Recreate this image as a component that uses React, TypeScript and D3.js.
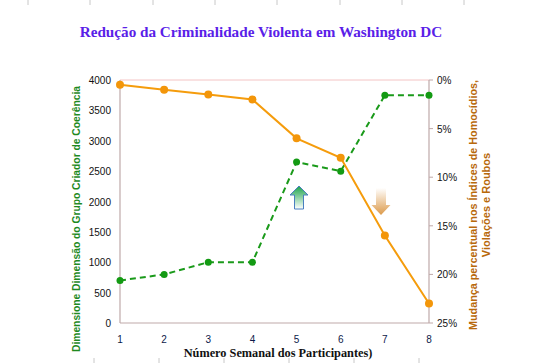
import React from 'react';
import * as d3 from 'd3';

const weeks = [1, 2, 3, 4, 5, 6, 7, 8];
const groupSize = [700, 800, 1000, 1000, 2650, 2500, 3750, 3750];
const crimeChange = [0.5, 1, 1.5, 2, 6, 8, 16, 23];
const leftTicks = [0, 500, 1000, 1500, 2000, 2500, 3000, 3500, 4000];
const rightTicks = [0, 5, 10, 15, 20, 25];
const topRuler = [28, 90, 153, 215, 277, 340, 402, 464];
const bottomRuler = [94, 159, 224, 289, 354, 419];

const W = 545;
const H = 363;
const m = { left: 120, right: 429, top: 80, bottom: 323 };

export default function App() {
  const x = d3.scaleLinear().domain([1, 8]).range([m.left, m.right]);
  const yL = d3.scaleLinear().domain([0, 4000]).range([m.bottom, m.top]);
  const yR = d3.scaleLinear().domain([0, 25]).range([m.top, m.bottom]);

  const greenLine = d3.line<number>().x((_, i) => x(weeks[i])).y(d => yL(d))(groupSize) || '';
  const orangeLine = d3.line<number>().x((_, i) => x(weeks[i])).y(d => yR(d))(crimeChange) || '';

  const axisCol = '#bfa9a9';
  const sans = '"Liberation Sans", Arial, sans-serif';
  const serif = '"Liberation Serif", "DejaVu Serif", serif';

  // arrow shapes (relative)
  const upArrow = 'M0,-12 L9,-3 L4.5,-3 L4.5,11 L-4.5,11 L-4.5,-3 L-9,-3 Z';
  const downArrow = 'M-5,-14 L5,-14 L5,3 L9.5,3 L0,13 L-9.5,3 L-5,3 Z';

  return (
    <svg width={W} height={H} style={{ position: 'absolute', left: 0, top: 0, background: '#fff' }}>
      <defs>
        <linearGradient id="gUp" x1="0" x2="0" y1="0" y2="1">
          <stop offset="0%" stopColor="#1aa34a" />
          <stop offset="100%" stopColor="#ffffff" />
        </linearGradient>
        <linearGradient id="gDown" x1="0" x2="0" y1="0" y2="1">
          <stop offset="0%" stopColor="#ffffff" />
          <stop offset="100%" stopColor="#dc9a4a" />
        </linearGradient>
      </defs>

      {topRuler.map(t => (
        <line key={'t' + t} x1={t} x2={t} y1={0} y2={5} stroke="#c8c8c8" />
      ))}
      {bottomRuler.map(t => (
        <line key={'b' + t} x1={t} x2={t} y1={358} y2={363} stroke="#c8c8c8" />
      ))}

      <text x={261} y={37} textAnchor="middle" fill="#5a1ee8" fontFamily={serif} fontWeight="bold" fontSize={15.2}>
        Redução da Criminalidade Violenta em Washington DC
      </text>

      {/* frame */}
      <line x1={m.left} x2={m.right} y1={m.top} y2={m.top} stroke="#f4c4c4" />
      <line x1={m.left} x2={m.right} y1={m.bottom} y2={m.bottom} stroke={axisCol} strokeWidth={1.2} />
      <line x1={m.left} x2={m.left} y1={m.top} y2={m.bottom} stroke={axisCol} strokeWidth={1.2} />
      <line x1={m.right} x2={m.right} y1={m.top} y2={m.bottom} stroke={axisCol} strokeWidth={1.2} />

      {leftTicks.map(t => (
        <text key={'l' + t} x={111} y={yL(t) + 4} textAnchor="end" fontFamily={sans} fontSize={10} fill="#111">
          {t}
        </text>
      ))}
      {rightTicks.map(t => (
        <g key={'r' + t}>
          <line x1={m.right} x2={m.right + 4} y1={yR(t)} y2={yR(t)} stroke={axisCol} />
          <text x={437} y={yR(t) + 4} fontFamily={sans} fontSize={10} fill="#111">{t}%</text>
        </g>
      ))}
      {weeks.map(w => (
        <text key={'x' + w} x={x(w)} y={343} textAnchor="middle" fontFamily={sans} fontSize={10} fill="#0b1a4a">
          {w}
        </text>
      ))}
      <text x={278} y={357} textAnchor="middle" fontFamily={serif} fontWeight="bold" fontSize={12.3} fill="#111">
        Número Semanal dos Participantes)
      </text>

      <text transform="translate(80,219) rotate(-90)" textAnchor="middle" fontFamily={sans} fontWeight="bold"
        fontSize={11} fill="#1f8a1f" textLength={266} lengthAdjust="spacingAndGlyphs">
        Dimensione Dimensão do Grupo Criador de Coerência
      </text>
      <text transform="translate(477,205) rotate(-90)" textAnchor="middle" fontFamily={sans} fontWeight="bold"
        fontSize={11} fill="#b8690c" textLength={250} lengthAdjust="spacingAndGlyphs">
        Mudança percentual nos Índices de Homocídios,
      </text>
      <text transform="translate(490,205) rotate(-90)" textAnchor="middle" fontFamily={sans} fontWeight="bold"
        fontSize={11} fill="#b8690c">
        Violações e Roubos
      </text>

      <path d={greenLine} fill="none" stroke="#1a9a1a" strokeWidth={2} strokeDasharray="6,4" />
      {groupSize.map((v, i) => (
        <circle key={'g' + i} cx={x(weeks[i])} cy={yL(v)} r={3.5} fill="#139a13" />
      ))}
      <path d={orangeLine} fill="none" stroke="#f59c0c" strokeWidth={2} />
      {crimeChange.map((v, i) => (
        <circle key={'o' + i} cx={x(weeks[i])} cy={yR(v)} r={4} fill="#f3960a" />
      ))}

      <path d={upArrow} transform="translate(299,198)" fill="url(#gUp)" stroke="#4a7fc0" strokeWidth={1} />
      <path d={downArrow} transform="translate(381,202)" fill="url(#gDown)" />
    </svg>
  );
}
